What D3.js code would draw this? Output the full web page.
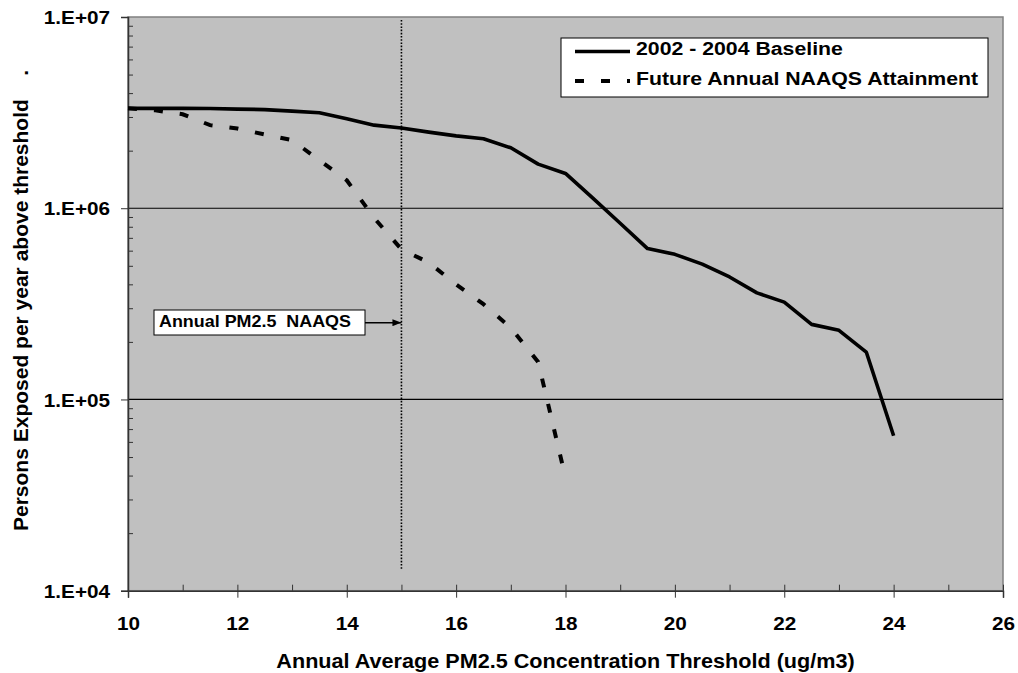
<!DOCTYPE html>
<html>
<head>
<meta charset="UTF-8">
<title>PM2.5 exposure</title>
<script src="https://d3js.org/d3.v7.min.js"></script>
<style>
    body { margin: 0; background: #fff; }
    svg { display: block; }
    text { font-family: "Liberation Sans", Arial, sans-serif; font-weight: bold; fill: #000; }
</style>
</head>
<body>
<svg width="1018" height="673"></svg>
<script>
    // thresholds (ug/m3)
    let baseX = [10, 10.5, 11, 11.5, 12, 12.5, 13, 13.5, 14, 14.5, 15, 15.5, 16, 16.5, 17, 17.5,
        18, 18.5, 19, 19.5, 20, 20.5, 21, 21.5, 22, 22.5, 23, 23.5, 24];
    let baseY = [3.33e6, 3.33e6, 3.33e6, 3.32e6, 3.30e6, 3.28e6, 3.22e6, 3.16e6, 2.94e6, 2.72e6,
        2.63e6, 2.50e6, 2.39e6, 2.31e6, 2.07e6, 1.70e6, 1.52e6, 1.13e6, 8.35e5, 6.15e5, 5.74e5,
        5.1e5, 4.37e5, 3.61e5, 3.23e5, 2.47e5, 2.30e5, 1.77e5, 6.46e4];
    let futX = [10, 10.5, 11, 11.5, 12, 12.5, 13, 13.5, 14, 14.5, 15, 15.5, 16, 16.5, 17, 17.5, 18];
    let futY = [3.33e6, 3.25e6, 3.10e6, 2.72e6, 2.61e6, 2.43e6, 2.27e6, 1.78e6, 1.40e6, 8.9e5,
        6.1e5, 5.2e5, 4.0e5, 3.15e5, 2.37e5, 1.57e5, 3.9e4];
    let seriesNames = ["2002 - 2004 Baseline", "Future Annual NAAQS Attainment"];
    let xTicks = [10, 12, 14, 16, 18, 20, 22, 24, 26];
    let yTicks = [1e4, 1e5, 1e6, 1e7];
    let yTickLabels = ["1.E+04", "1.E+05", "1.E+06", "1.E+07"];
    let naaqs = 15;

    let plotL = 128, plotR = 1003, plotT = 17, plotB = 590.7;
    let sx = 1.12; // the original text is a bit wide

    let svg = d3.select("svg");
    let x = d3.scaleLinear().domain([10, 26]).range([plotL, plotR]);
    let y = d3.scaleLog().domain([1e4, 1e7]).range([plotB, plotT]);

    svg.append("rect")
        .attr("x", plotL).attr("y", plotT)
        .attr("width", plotR - plotL).attr("height", plotB - plotT)
        .attr("fill", "#c0c0c0")
        .attr("stroke", "#808080").attr("stroke-width", 1.5);

    // gridlines
    svg.append("g").selectAll("line")
        .data([1e5, 1e6])
        .enter().append("line")
        .attr("x1", plotL).attr("x2", plotR)
        .attr("y1", d => y(d)).attr("y2", d => y(d))
        .attr("stroke", "#000").attr("stroke-width", 1.2);

    // minor ticks
    let minorY = [];
    [1e4, 1e5, 1e6].forEach(d => { for (let k = 2; k < 10; k++) minorY.push(d * k); });
    svg.append("g")
        .attr("transform", `translate(${plotL},0)`)
        .call(d3.axisLeft(y).tickValues(minorY).tickSize(-5).tickFormat(""))
        .call(g => g.select(".domain").remove())
        .selectAll("line").attr("stroke", "#333");

    svg.append("g")
        .attr("transform", `translate(0,${plotB})`)
        .call(d3.axisBottom(x).tickValues(d3.range(10, 27, 1)).tickSize(-6).tickFormat(""))
        .call(g => g.select(".domain").remove())
        .selectAll("line").attr("stroke", "#333");

    // major axes
    let yAxis = svg.append("g")
        .attr("transform", `translate(${plotL},0)`)
        .call(d3.axisLeft(y).tickValues(yTicks).tickSize(7).tickPadding(11)
            .tickFormat((d, i) => yTickLabels[i]));
    yAxis.selectAll("text")
        .style("font-size", "18.5px")
        .attr("x", -18 / sx).attr("dy", "0.36em")
        .attr("transform", `scale(${sx},1)`);

    let xAxis = svg.append("g")
        .attr("transform", `translate(0,${plotB})`)
        .call(d3.axisBottom(x).tickValues(xTicks).tickSize(7).tickPadding(19));
    xAxis.selectAll("text")
        .style("font-size", "18.5px")
        .attr("transform", `scale(${sx},1)`);

    [yAxis, xAxis].forEach(g => {
        g.select(".domain").attr("stroke", "#333").attr("stroke-width", 1.5);
        g.selectAll("line").attr("stroke", "#333");
    });

    // NAAQS line
    svg.append("line")
        .attr("x1", x(naaqs)).attr("x2", x(naaqs))
        .attr("y1", 20).attr("y2", 569)
        .attr("stroke", "#000").attr("stroke-width", 1.6)
        .attr("stroke-dasharray", "1.6,1.6");

    let line = d3.line().x(d => x(d[0])).y(d => y(d[1]));

    svg.append("path")
        .datum(baseX.map((d, i) => [d, baseY[i]]))
        .attr("d", line)
        .attr("fill", "none").attr("stroke", "#000")
        .attr("stroke-width", 3.6).attr("stroke-linejoin", "round");

    svg.append("path")
        .datum(futX.map((d, i) => [d, futY[i]]))
        .attr("d", line)
        .attr("fill", "none").attr("stroke", "#000")
        .attr("stroke-width", 4).attr("stroke-dasharray", "9,17");

    // annotation
    svg.append("defs").append("marker")
        .attr("id", "arrow")
        .attr("viewBox", "0 0 10 10")
        .attr("refX", 10).attr("refY", 5)
        .attr("markerWidth", 9).attr("markerHeight", 7)
        .attr("markerUnits", "userSpaceOnUse")
        .attr("orient", "auto")
        .attr("preserveAspectRatio", "none")
        .append("path").attr("d", "M0,0L10,5L0,10Z").attr("fill", "#000");
    svg.append("rect")
        .attr("x", 154).attr("y", 310).attr("width", 211).attr("height", 25)
        .attr("fill", "#fff").attr("stroke", "#000").attr("stroke-width", 1);
    svg.append("text")
        .attr("transform", `translate(159,327) scale(${sx},1)`)
        .style("font-size", "16px").style("white-space", "pre")
        .text("Annual PM2.5  NAAQS");
    svg.append("line")
        .attr("x1", 365).attr("x2", x(naaqs)).attr("y1", 322.7).attr("y2", 322.7)
        .attr("stroke", "#000").attr("stroke-width", 1.5)
        .attr("marker-end", "url(#arrow)");

    // legend
    let legend = svg.append("g");
    legend.append("rect")
        .attr("x", 561).attr("y", 38).attr("width", 427).attr("height", 59)
        .attr("fill", "#fff").attr("stroke", "#000").attr("stroke-width", 1);
    legend.append("line")
        .attr("x1", 575).attr("x2", 630).attr("y1", 51.5).attr("y2", 51.5)
        .attr("stroke", "#000").attr("stroke-width", 3.6);
    legend.append("line")
        .attr("x1", 575).attr("x2", 630).attr("y1", 81).attr("y2", 81)
        .attr("stroke", "#000").attr("stroke-width", 4).attr("stroke-dasharray", "9,17");
    legend.selectAll("text.lg")
        .data(seriesNames)
        .enter().append("text")
        .attr("class", "lg")
        .attr("transform", (d, i) => `translate(636,${55 + i * 30}) scale(${sx},1)`)
        .style("font-size", "19px")
        .text(d => d);

    // axis titles
    svg.append("text")
        .attr("transform", `translate(${(plotL + plotR) / 2},668) scale(${sx},1)`)
        .attr("text-anchor", "middle")
        .style("font-size", "19.3px")
        .text("Annual Average PM2.5 Concentration Threshold (ug/m3)");
    svg.append("text")
        .attr("transform", "translate(28,70) rotate(-90)")
        .attr("text-anchor", "end")
        .style("font-size", "21px").style("white-space", "pre")
        .text("Persons Exposed per year above threshold    .");
</script>
</body>
</html>
